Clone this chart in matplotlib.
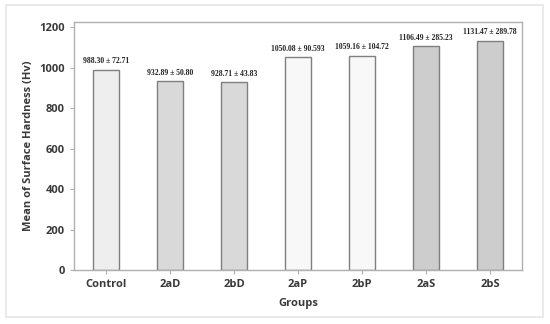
import matplotlib
matplotlib.use("Agg")
import matplotlib.pyplot as plt
from matplotlib.patches import Rectangle

groups = ["Control", "2aD", "2bD", "2aP", "2bP", "2aS", "2bS"]
means = [988.30, 932.89, 928.71, 1050.08, 1059.16, 1106.49, 1131.47]
labels = ["988.30 ± 72.71", "932.89 ± 50.80", "928.71 ± 43.83", "1050.08 ± 90.593",
          "1059.16 ± 104.72", "1106.49 ± 285.23", "1131.47 ± 289.78"]
colors = ["#eeeeee", "#d9d9d9", "#d9d9d9", "#f8f8f8", "#f8f8f8", "#cdcdcd", "#cdcdcd"]
yticks = [0, 200, 400, 600, 800, 1000, 1200]

fig = plt.figure(figsize=(5.5, 3.24), dpi=100)
fig.patches.append(Rectangle((6/550, 1-317/324), 537/550, 312/324, transform=fig.transFigure,
                             fill=False, edgecolor="#e6e6e6", linewidth=1.2))
ax = fig.add_axes([74/550, 1-270/324, (522-74)/550, (270-22)/324])
x = list(range(len(groups)))
ax.bar(x, means, width=0.41, color=colors, edgecolor="#7f7f7f", linewidth=1.0, zorder=2)
for xi, m, lab in zip(x, means, labels):
    ax.text(xi, m + 22, lab, ha="center", va="bottom", fontsize=5.5, fontweight="bold",
            family="Liberation Serif", color="#222222")
ax.set_xlim(-0.5, 6.5)
ax.set_ylim(0, 1225)
ax.set_yticks(yticks)
ax.set_xticks(x)
ax.set_xticklabels(groups)
for s in ax.spines.values():
    s.set_color("#b0b0b0")
    s.set_linewidth(1.0)
ax.tick_params(axis="both", colors="#b0b0b0", length=3, labelcolor="#3a3a3a", labelsize=8)
for t in ax.get_xticklabels() + ax.get_yticklabels():
    t.set_fontweight("bold")
    t.set_family("Open Sans")
ax.set_ylabel("Mean of Surface Hardness (Hv)", fontsize=8, color="#3a3a3a",
              fontweight="bold", family="Open Sans", labelpad=4)
ax.set_xlabel("Groups", fontsize=8, color="#3a3a3a", fontweight="bold",
              family="Open Sans", labelpad=6)
fig.savefig("out.png", dpi=100)
